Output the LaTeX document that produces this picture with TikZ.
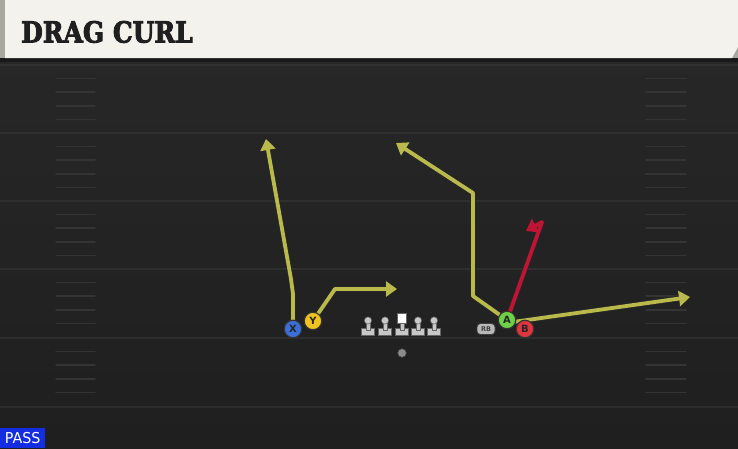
\documentclass[tikz,border=0pt]{standalone}
\usepackage{fontspec}
\setmainfont{DejaVu Sans}
\newfontfamily\titlefont{DejaVu Serif}[FakeBold=3.2]
\usetikzlibrary{arrows.meta,calc}
\definecolor{fieldtop}{RGB}{40,40,40}
\definecolor{fieldbot}{RGB}{31,31,31}
\definecolor{fieldline}{RGB}{60,60,60}
\definecolor{hashc}{RGB}{52,52,52}
\definecolor{cream}{RGB}{244,242,236}
\definecolor{creamedge}{RGB}{168,167,160}
\definecolor{routey}{RGB}{186,186,76}
\definecolor{router}{RGB}{192,20,52}
\definecolor{xblue}{RGB}{60,110,215}
\definecolor{yyel}{RGB}{240,196,30}
\definecolor{agreen}{RGB}{110,210,70}
\definecolor{bred}{RGB}{226,52,62}
\definecolor{passblue}{RGB}{20,45,225}
\definecolor{olgrey}{RGB}{200,200,200}
\tikzset{
  route/.style={line width=3.8pt, draw=#1, line join=round,
    -{Triangle[length=11pt,width=15pt]},
    preaction={draw=black!85, line width=5.6pt, line join=round,
      -{Triangle[length=12.5pt,width=17.5pt]}}},
  player/.style={circle, minimum size=17.5pt, inner sep=0pt, draw=black!80,
    line width=1.2pt, fill=#1, font=\bfseries\fontsize{10}{10}\selectfont, text=black!85},
  olstyle/.style={fill=olgrey, draw=black!60, line width=0.5pt}
}
\begin{document}
\begin{tikzpicture}[x=1pt,y=-1pt]
\useasboundingbox (0,0) rectangle (738,448);
% field
\shade[top color=fieldtop, bottom color=fieldbot] (0,0) rectangle (738,448);
\foreach \yy/\c in {65/62,133/58,201/56,269/54,338/50,407/46}{
  \draw[draw=fieldline!\c!fieldbot, line width=1.8pt] (0,\yy) -- (738,\yy);
}
\foreach \yy in {65,133,201,269,338}{
  \foreach \k in {1,2,3,4}{
    \draw[hashc, line width=1.5pt, line cap=round] (56,\yy+13.6*\k) -- (95,\yy+13.6*\k);
    \draw[hashc, line width=1.5pt, line cap=round] (646,\yy+13.6*\k) -- (686,\yy+13.6*\k);
  }
}
% header
\fill[black!90] (0,56) rectangle (738,62);
\fill[creamedge] (0,0) rectangle (738,58);
\fill[cream] (5,0) -- (738,0) -- (738,47) -- (732,58) -- (5,58) -- cycle;
\node[anchor=base west, inner sep=0pt, text=black!88] (title) at (21,42.5)
  {\scalebox{0.86}[1]{\titlefont\bfseries\fontsize{29}{29}\selectfont DRAG CURL}};
% player positions
\coordinate (xc) at (293,329);
\coordinate (yc) at (313,321);
\coordinate (ac) at (507,320);
\coordinate (bc) at (525,329);
\coordinate (x1) at (293,294);
\coordinate (x2) at (266,139);
\coordinate (y1) at (335,289);
\coordinate (y2) at (397,289);
\coordinate (a1) at (473,296);
\coordinate (a2) at (473,193);
\coordinate (a3) at (396,143);
\coordinate (bs) at (513,322);
\coordinate (b2) at (690,297);
\coordinate (r1) at (542,222);
\coordinate (r2) at (526,231);
% routes
\draw[route=routey] (xc) -- (x1) -- ($(x1)!0.1!(x2)+(0.6,0)$) -- (x2);
\draw[route=routey] (yc) -- (y1) -- (y2);
\draw[route=routey] (ac) -- (a1) -- (a2) -- (a3);
\draw[route=routey] (bs) -- (b2);
\draw[route=router] (ac) -- (r1) -- (r2);
% offensive line
\foreach \xx in {368,385,418,434}{
  \fill[olstyle] (\xx-6.5,335) rectangle (\xx+6.5,328.5);
  \fill[olstyle] (\xx-1.8,330) rectangle (\xx+1.8,321);
  \fill[olstyle] (\xx,320.5) circle (3.6);
}
\fill[olstyle] (402-6.5,335) rectangle (402+6.5,328.5);
\fill[olstyle] (402-1.8,330) rectangle (402+1.8,322);
\fill[white, draw=black!60, line width=0.5pt] (397.5,313) rectangle (406.5,323);
\node[circle, fill=black!45, draw=black!70, line width=0.6pt, minimum size=8.5pt, inner sep=0pt] (qb) at (402,353) {};
% players
\node[rounded corners=3.5pt, fill=black!28, draw=black!75, line width=0.8pt, minimum width=18pt,
  minimum height=11pt, inner sep=0pt, font=\bfseries\fontsize{6.5}{6.5}\selectfont, text=black!75] (rb) at (486,329) {RB};
\node[player=xblue] (X) at (xc) {X};
\node[player=yyel] (Y) at (yc) {Y};
\node[player=agreen] (A) at (ac) {A};
\node[player=bred] (B) at (bc) {B};
% pass label
\node[fill=passblue, text=white, anchor=south west, minimum width=45pt, minimum height=20pt,
  inner sep=0pt, font=\fontsize{15}{15}\selectfont] (pass) at (0,448) {\scalebox{0.95}[1]{PASS}};
\end{tikzpicture}
\end{document}
